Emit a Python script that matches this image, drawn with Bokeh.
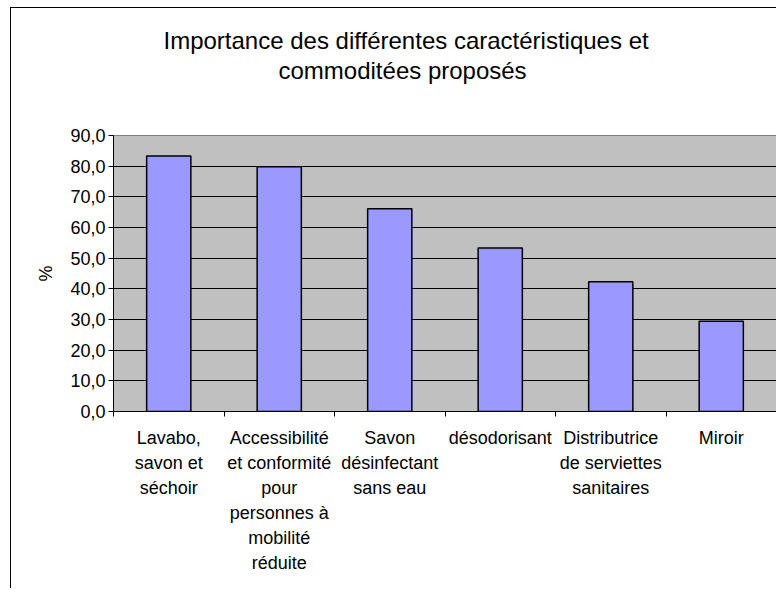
from bokeh.plotting import figure
from bokeh.models import Range1d, FixedTicker, ColumnDataSource, Title
from bokeh.embed import file_html
from bokeh.resources import INLINE

# ---- data ----
categories = ["Lavabo, savon et séchoir",
              "Accessibilité et conformité pour personnes à mobilité réduite",
              "Savon désinfectant sans eau",
              "désodorisant",
              "Distributrice de serviettes sanitaires",
              "Miroir"]
category_labels = ["Lavabo,\nsavon et\nséchoir",
                   "Accessibilité\net conformité\npour\npersonnes à\nmobilité\nréduite",
                   "Savon\ndésinfectant\nsans eau",
                   "désodorisant",
                   "Distributrice\nde serviettes\nsanitaires",
                   "Miroir"]
values = [83.3, 79.8, 66.1, 53.3, 42.3, 29.4]
y_ticks = [0, 10, 20, 30, 40, 50, 60, 70, 80, 90]
y_tick_labels = ["0,0", "10,0", "20,0", "30,0", "40,0", "50,0", "60,0", "70,0", "80,0", "90,0"]
title_lines = ["Importance des différentes caractéristiques et", "commoditées proposés"]
y_label = "%"

FONT = "Liberation Sans"

n = len(categories)
centers = [i + 0.5 for i in range(n)]
source = ColumnDataSource(dict(x=centers, top=values, cat=categories))

p = figure(width=766, height=581, output_backend="svg", toolbar_location=None,
           x_range=Range1d(0, n), y_range=Range1d(0, 90),
           min_border_left=102, min_border_right=1, min_border_top=127, min_border_bottom=178,
           background_fill_color="#C0C0C0", border_fill_color="white")

p.outline_line_color = "#808080"
p.outline_line_width = 1

p.vbar(x="x", top="top", width=0.4, bottom=0, source=source,
       fill_color="#9999FF", line_color="black", line_width=1.5)

# x axis: labels at centers, ticks at category boundaries
p.xaxis.ticker = FixedTicker(ticks=centers, minor_ticks=list(range(n + 1)))
p.xaxis.major_label_overrides = {c: lab for c, lab in zip(centers, category_labels)}
p.xaxis.major_tick_in = 0
p.xaxis.major_tick_out = 0
p.xaxis.minor_tick_in = 0
p.xaxis.minor_tick_out = 5
p.xaxis.minor_tick_line_color = "black"
p.xaxis.axis_line_color = "black"
p.xaxis.major_label_standoff = 11
p.xaxis.major_label_text_font = FONT
p.xaxis.major_label_text_font_size = "18px"
p.xaxis.major_label_text_color = "black"
p.xaxis.major_label_text_line_height = 1.25
p.xaxis.major_label_text_align = "center"
p.xgrid.visible = False

# y axis
p.yaxis.ticker = FixedTicker(ticks=y_ticks)
p.yaxis.major_label_overrides = {t: lab for t, lab in zip(y_ticks, y_tick_labels)}
p.yaxis.major_tick_in = 0
p.yaxis.major_tick_out = 5
p.yaxis.minor_tick_line_color = None
p.yaxis.axis_line_color = "black"
p.yaxis.major_tick_line_color = "black"
p.yaxis.major_label_standoff = 3
p.yaxis.major_label_text_font = FONT
p.yaxis.major_label_text_font_size = "18px"
p.yaxis.major_label_text_color = "black"
p.yaxis.axis_label = y_label
p.yaxis.axis_label_text_font = FONT
p.yaxis.axis_label_text_font_size = "18px"
p.yaxis.axis_label_text_font_style = "normal"
p.yaxis.axis_label_text_color = "black"
p.yaxis.axis_label_standoff = 11
p.ygrid.grid_line_color = "black"
p.ygrid.grid_line_width = 1

# title: spacer panel next to the plot, then line 2, then line 1
p.add_layout(Title(text=" ", standoff=48, text_font_size="1px"), "above")
p.add_layout(Title(text=title_lines[1], align="left", offset=165, standoff=2,
                   text_font=FONT, text_font_size="24px", text_font_style="normal",
                   text_color="black"), "above")
p.add_layout(Title(text=title_lines[0], align="left", offset=50, standoff=0,
                   text_font=FONT, text_font_size="24px", text_font_style="normal",
                   text_color="black"), "above")

# chart-area border (left and top edges visible in the window)
p.styles = {"border-left": "1px solid black", "border-top": "1px solid black",
            "margin-left": "10px", "margin-top": "7px"}

open("out.html", "w").write(file_html(p, INLINE))
